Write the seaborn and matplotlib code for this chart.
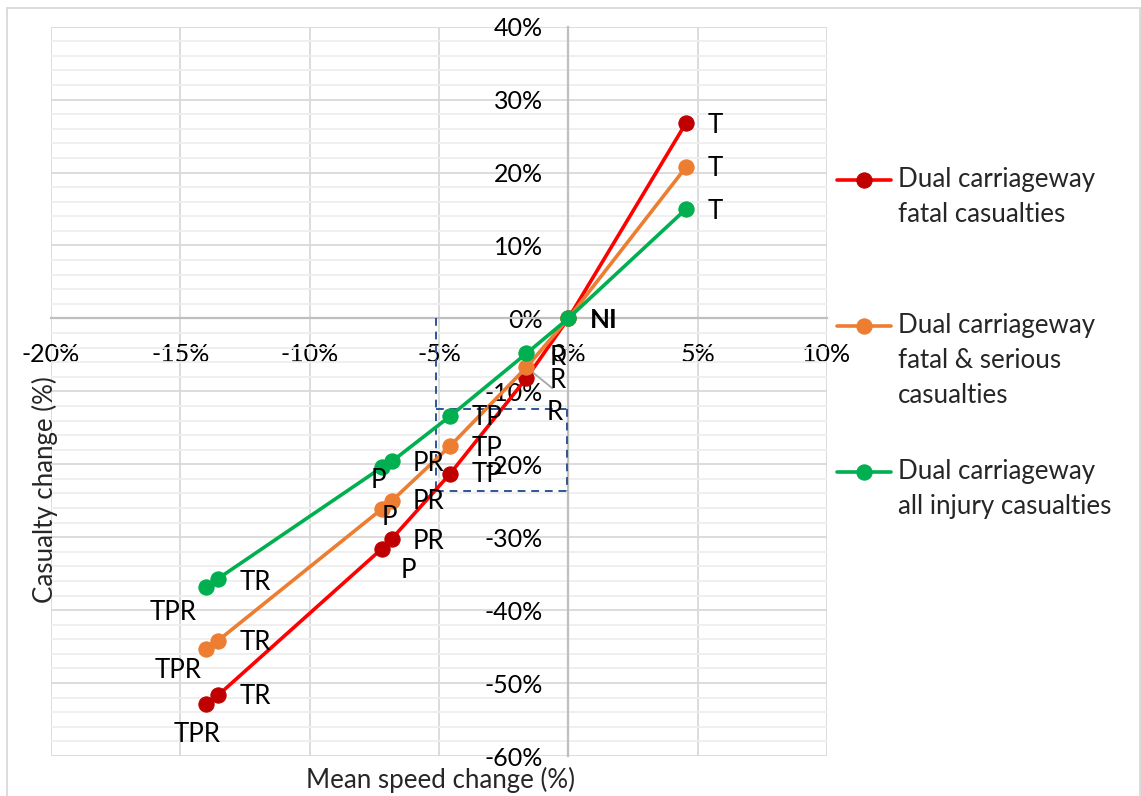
import matplotlib
matplotlib.use("Agg")
import matplotlib.pyplot as plt
from matplotlib.ticker import MultipleLocator, FuncFormatter
from matplotlib.patches import Rectangle
import seaborn as sns
import pandas as pd

# ---- data -----------------------------------------------------------------
scenarios = ["T", "NI", "R", "TP", "PR", "P", "TR", "TPR"]
speed_change = [4.55, 0.0, -1.62, -4.57, -6.82, -7.2, -13.55, -14.0]
fatal = [26.8, 0.0, -8.2, -21.3, -30.2, -31.55, -51.7, -52.9]
fatal_serious = [20.75, 0.0, -6.7, -17.5, -25.0, -26.1, -44.2, -45.3]
all_injury = [15.0, 0.0, -4.8, -13.4, -19.6, -20.4, -35.7, -36.8]

series_names = [
    "Dual carriageway\nfatal casualties",
    "Dual carriageway\nfatal & serious\ncasualties",
    "Dual carriageway\nall injury casualties",
]
series_values = [fatal, fatal_serious, all_injury]

# ---- styling ---------------------------------------------------------------
line_colors = ["#FF0000", "#ED7D31", "#00B050"]
marker_colors = ["#C00000", "#ED7D31", "#00B050"]
FONT = "Lato"
FS = 18.6
TICK_FS = 18

# label offsets in pixels (dx right, dy down) per series, per scenario
label_offsets = [
    {"T": (29, 3), "R": (28, 34), "TP": (37, 1), "PR": (37, 3), "P": (26, 22), "TR": (37, 1), "TPR": (-9, 30)},
    {"T": (29, 1), "R": (31, 13), "TP": (37, 2), "PR": (37, 1), "P": (7, 9), "TR": (37, 2), "TPR": (-28, 22)},
    {"T": (29, 2), "R": (31, 4), "TP": (37, 1), "PR": (37, 2), "P": (-4, 13), "TR": (37, 4), "TPR": (-33, 26)},
]

sns.set_theme(style="white")
plt.rcParams["font.family"] = [FONT, "DejaVu Sans"]

W, H = 1141, 796
fig = plt.figure(figsize=(W / 100, H / 100), dpi=100)
ax = fig.add_axes([51 / W, (H - 756) / H, (827 - 51) / W, (756 - 26.7) / H])

for name, vals, lc, mc in zip(series_names, series_values, line_colors, marker_colors):
    df = pd.DataFrame({"speed": speed_change, "casualty": vals})
    sns.lineplot(data=df, x="speed", y="casualty", ax=ax, color=lc, linewidth=2.6,
                 marker="o", markersize=11, markerfacecolor=mc, markeredgecolor=mc,
                 estimator=None, sort=True, label=name, zorder=5)

# data labels
for vals, offs in zip(series_values, label_offsets):
    for sc, xv, yv in zip(scenarios, speed_change, vals):
        if sc == "NI":
            continue
        dx, dy = offs[sc]
        ax.annotate(sc, xy=(xv, yv), xytext=(dx, -dy), textcoords="offset pixels",
                    ha="center", va="center", fontsize=FS, color="black", zorder=6)

# leader line for the fatal & serious "R" label
r_idx = scenarios.index("R")
ax.annotate("", xy=(speed_change[r_idx], fatal_serious[r_idx]), xytext=(26, -21),
            textcoords="offset pixels",
            arrowprops=dict(arrowstyle="-", color="#A6A6A6", lw=1.3, shrinkA=0, shrinkB=0),
            zorder=4)

# no-intervention point label
ni = scenarios.index("NI")
ax.annotate("NI", xy=(speed_change[ni], fatal[ni]), xytext=(35, -2), textcoords="offset pixels",
            ha="center", va="center", fontsize=FS, fontweight="bold", color="black", zorder=6)

# dashed highlight box
BOX_X = (-5.1, -0.07)
BOX_Y = (-12.4, -23.6)
box_style = dict(color="#2F5597", lw=1.4, ls=(0, (4, 3)), zorder=3)
ax.plot([BOX_X[0], BOX_X[0]], [0, BOX_Y[1]], **box_style)
ax.plot([BOX_X[0], BOX_X[1]], [BOX_Y[0], BOX_Y[0]], **box_style)
ax.plot([BOX_X[0], BOX_X[1]], [BOX_Y[1], BOX_Y[1]], **box_style)
ax.plot([BOX_X[1], BOX_X[1]], [BOX_Y[0], BOX_Y[1]], **box_style)

# axes, ticks and grid
ax.set_xlim(-20, 10)
ax.set_ylim(-60, 40)
ax.xaxis.set_major_locator(MultipleLocator(5))
ax.xaxis.set_minor_locator(MultipleLocator(1))
ax.yaxis.set_major_locator(MultipleLocator(10))
ax.yaxis.set_minor_locator(MultipleLocator(2))
pct = FuncFormatter(lambda v, p: f"{v:.0f}%")
ax.xaxis.set_major_formatter(pct)
ax.yaxis.set_major_formatter(pct)

ax.grid(True, which="major", color="#D9D9D9", lw=1.3)
ax.grid(True, which="minor", axis="y", color="#EEEEEE", lw=1.3)
ax.grid(False, which="minor", axis="x")
ax.set_axisbelow(True)

for s in ["top", "right"]:
    ax.spines[s].set_visible(False)
for s in ["left", "bottom"]:
    ax.spines[s].set_position(("data", 0))
    ax.spines[s].set_color("#BFBFBF")
    ax.spines[s].set_linewidth(1.6)
    ax.spines[s].set_zorder(2)

ax.tick_params(axis="both", which="both", direction="inout", length=9, width=1.2,
               color="#BFBFBF", labelsize=TICK_FS, labelcolor="black")
ax.tick_params(axis="x", which="major", pad=13)
ax.tick_params(axis="y", which="major", pad=14)
ax.tick_params(which="minor", labelleft=False, labelbottom=False)
ax.set_xlabel("")
ax.set_ylabel("")

fig.text(440 / W, 1 - 780 / H, "Mean speed change (%)", ha="center", va="center", fontsize=FS)
fig.text(45 / W, 1 - 490 / H, "Casualty change (%)", ha="center", va="center",
         rotation=90, fontsize=FS)

# legend: blank leading lines keep each marker level with the first text line
handles, labels = ax.get_legend_handles_labels()
labels = ["\n" * n.count("\n") + n for n in labels]
leg = ax.legend(handles, labels, loc="upper left", bbox_to_anchor=(837 / W, 1 - 132 / H),
                bbox_transform=fig.transFigure, frameon=False, fontsize=FS,
                handlelength=2.1, handletextpad=0.25, labelspacing=0.62, borderpad=0,
                borderaxespad=0)
for t in leg.get_texts():
    t.set_linespacing(1.5)

# outer chart border
fig.patches.append(Rectangle((7 / W, -0.02), (1140 - 7) / W, 1 - 8 / H + 0.02,
                             transform=fig.transFigure, fill=False,
                             edgecolor="#D9D9D9", lw=1.3))

fig.savefig("out.png", dpi=100)
